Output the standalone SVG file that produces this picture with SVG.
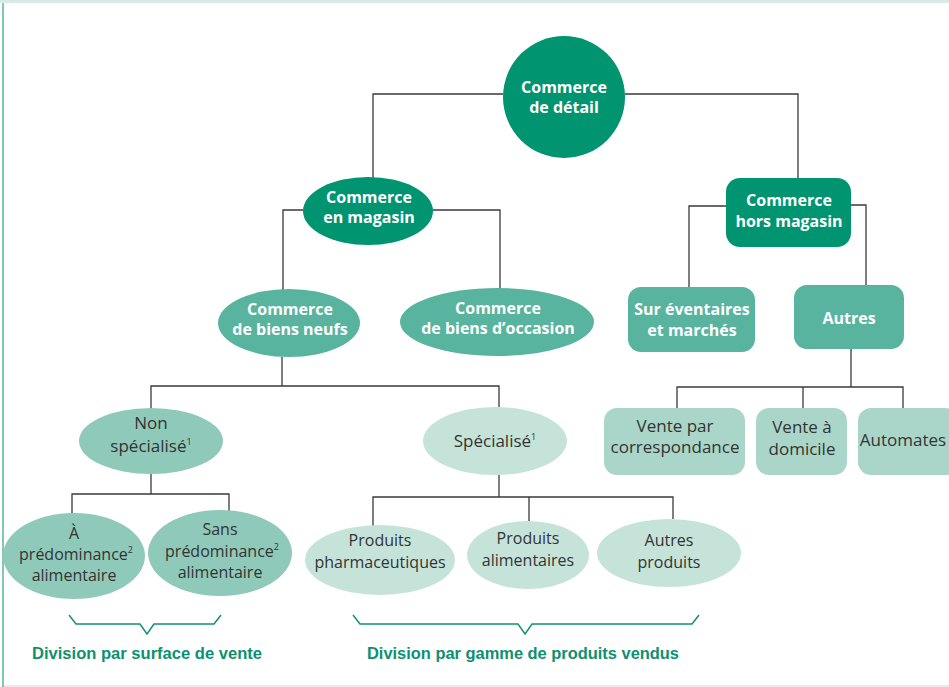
<svg xmlns="http://www.w3.org/2000/svg" width="949" height="687" viewBox="0 0 949 687">
<style>
.b{font-family:"Open Sans","Liberation Sans",sans-serif;font-weight:bold;font-size:16px;fill:#ffffff;text-anchor:middle}
.r{font-family:"Open Sans","Liberation Sans",sans-serif;font-size:17px;fill:#333333;text-anchor:middle}
.s{font-size:16px}
.sup{font-size:9px}
.c1{fill:#009470}
.c2{fill:#58b49f}
.c3{fill:#8fc9b9}
.c4{fill:#c6e3da}
.c5{fill:#aad6ca}
.ln{fill:none;stroke:#3a3a3a;stroke-width:1.3}
.br{fill:none;stroke:#119272;stroke-width:1.5}
.ft{font-family:"Liberation Sans",sans-serif;font-weight:bold;font-size:17px;fill:#0e9070}
</style>
<rect x="0" y="0" width="949" height="687" fill="#ffffff"/>
<rect x="0" y="0" width="949" height="3" fill="#d6ebe5"/>
<rect x="2" y="3" width="2" height="684" fill="#7fc9b4"/>
<rect x="4" y="685" width="945" height="2" fill="#dcefe9"/>

<g id="connectors">
<polyline class="ln" points="503,94 373,94 373,180"/>
<polyline class="ln" points="625,94 798,94 798,178"/>
<polyline class="ln" points="303,210 283,210 283,290"/>
<polyline class="ln" points="433,210 500,210 500,289"/>
<polyline class="ln" points="726,206 689,206 689,287"/>
<polyline class="ln" points="851,205 866,205 866,285"/>
<line class="ln" x1="851" y1="349" x2="851" y2="387"/>
<polyline class="ln" points="677,408 677,387 903,387 903,408"/>
<line class="ln" x1="803" y1="387" x2="803" y2="408"/>
<line class="ln" x1="282" y1="357" x2="282" y2="386"/>
<polyline class="ln" points="151,408 151,386 499,386 499,407"/>
<line class="ln" x1="151" y1="474" x2="151" y2="494"/>
<polyline class="ln" points="72,515 72,494 229,494 229,511"/>
<line class="ln" x1="499" y1="475" x2="499" y2="497"/>
<polyline class="ln" points="373,526 373,497 673,497 673,519"/>
<line class="ln" x1="529" y1="497" x2="529" y2="521"/>
</g>

<g id="root">
<circle class="c1" cx="564" cy="97" r="61"/>
<text class="b" x="564" y="93">Commerce</text>
<text class="b" x="564" y="113">de détail</text>
</g>
<g id="en-magasin">
<ellipse class="c1" cx="368" cy="211" rx="65" ry="34"/>
<text class="b" x="369" y="203">Commerce</text>
<text class="b" x="369" y="223">en magasin</text>
</g>
<g id="hors-magasin">
<rect class="c1" x="726" y="178" width="125" height="69" rx="14"/>
<text class="b" x="789" y="206">Commerce</text>
<text class="b" x="789" y="227">hors magasin</text>
</g>
<g id="biens-neufs">
<ellipse class="c2" cx="289" cy="323" rx="71" ry="34"/>
<text class="b" x="290" y="315">Commerce</text>
<text class="b" x="290" y="335">de biens neufs</text>
</g>
<g id="biens-occasion">
<ellipse class="c2" cx="497" cy="322" rx="97" ry="34"/>
<text class="b" x="498" y="314">Commerce</text>
<text class="b" x="498" y="334">de biens d’occasion</text>
</g>
<g id="eventaires">
<rect class="c2" x="628" y="287" width="127" height="65" rx="13"/>
<text class="b" x="692" y="315">Sur éventaires</text>
<text class="b" x="692" y="336">et marchés</text>
</g>
<g id="autres">
<rect class="c2" x="794" y="285" width="110" height="64" rx="13"/>
<text class="b" x="849" y="324">Autres</text>
</g>
<g id="correspondance">
<rect class="c5" x="604" y="408" width="141" height="67" rx="13"/>
<text class="r" x="675" y="432">Vente par</text>
<text class="r" x="675" y="453">correspondance</text>
</g>
<g id="domicile">
<rect class="c5" x="756" y="408" width="91" height="67" rx="13"/>
<text class="r" x="802" y="433">Vente à</text>
<text class="r" x="802" y="455">domicile</text>
</g>
<g id="automates">
<rect class="c5" x="858" y="408" width="100" height="67" rx="13"/>
<text class="r" x="903" y="446">Automates</text>
</g>
<g id="non-specialise">
<ellipse class="c3" cx="151" cy="441" rx="72" ry="33"/>
<text class="r" x="151" y="429">Non</text>
<text class="r" x="151" y="452">spécialisé<tspan class="sup" dy="-7">1</tspan></text>
</g>
<g id="specialise">
<ellipse class="c4" cx="495" cy="441" rx="72" ry="34"/>
<text class="r" x="495" y="447">Spécialisé<tspan class="sup" dy="-7">1</tspan></text>
</g>
<g id="a-predominance">
<ellipse class="c3" cx="74" cy="556" rx="71" ry="43"/>
<text class="r s" x="74" y="539">À</text>
<text class="r s" x="76" y="560">prédominance<tspan class="sup" dy="-7">2</tspan></text>
<text class="r s" x="74" y="581">alimentaire</text>
</g>
<g id="sans-predominance">
<ellipse class="c3" cx="220" cy="553" rx="72" ry="43"/>
<text class="r s" x="220" y="535">Sans</text>
<text class="r s" x="222" y="557">prédominance<tspan class="sup" dy="-7">2</tspan></text>
<text class="r s" x="220" y="578">alimentaire</text>
</g>
<g id="pharma">
<ellipse class="c4" cx="380" cy="560" rx="75" ry="35"/>
<text class="r s" x="380" y="546">Produits</text>
<text class="r s" x="380" y="568">pharmaceutiques</text>
</g>
<g id="alimentaires">
<ellipse class="c4" cx="528" cy="555" rx="61" ry="34"/>
<text class="r s" x="528" y="544">Produits</text>
<text class="r s" x="528" y="566">alimentaires</text>
</g>
<g id="autres-produits">
<ellipse class="c4" cx="669" cy="553" rx="72" ry="34"/>
<text class="r s" x="669" y="546">Autres</text>
<text class="r s" x="669" y="568">produits</text>
</g>

<g id="brace-surface">
<polyline class="br" points="69,615 76,624 140,624 147,634 154,624 214,624 221,615"/>
<text class="ft" x="32" y="659" textLength="230" lengthAdjust="spacingAndGlyphs">Division par surface de vente</text>
</g>
<g id="brace-gamme">
<polyline class="br" points="353,615 360,624 518,624 525,634 532,624 692,624 699,615"/>
<text class="ft" x="367" y="659" textLength="312" lengthAdjust="spacingAndGlyphs">Division par gamme de produits vendus</text>
</g>
</svg>
